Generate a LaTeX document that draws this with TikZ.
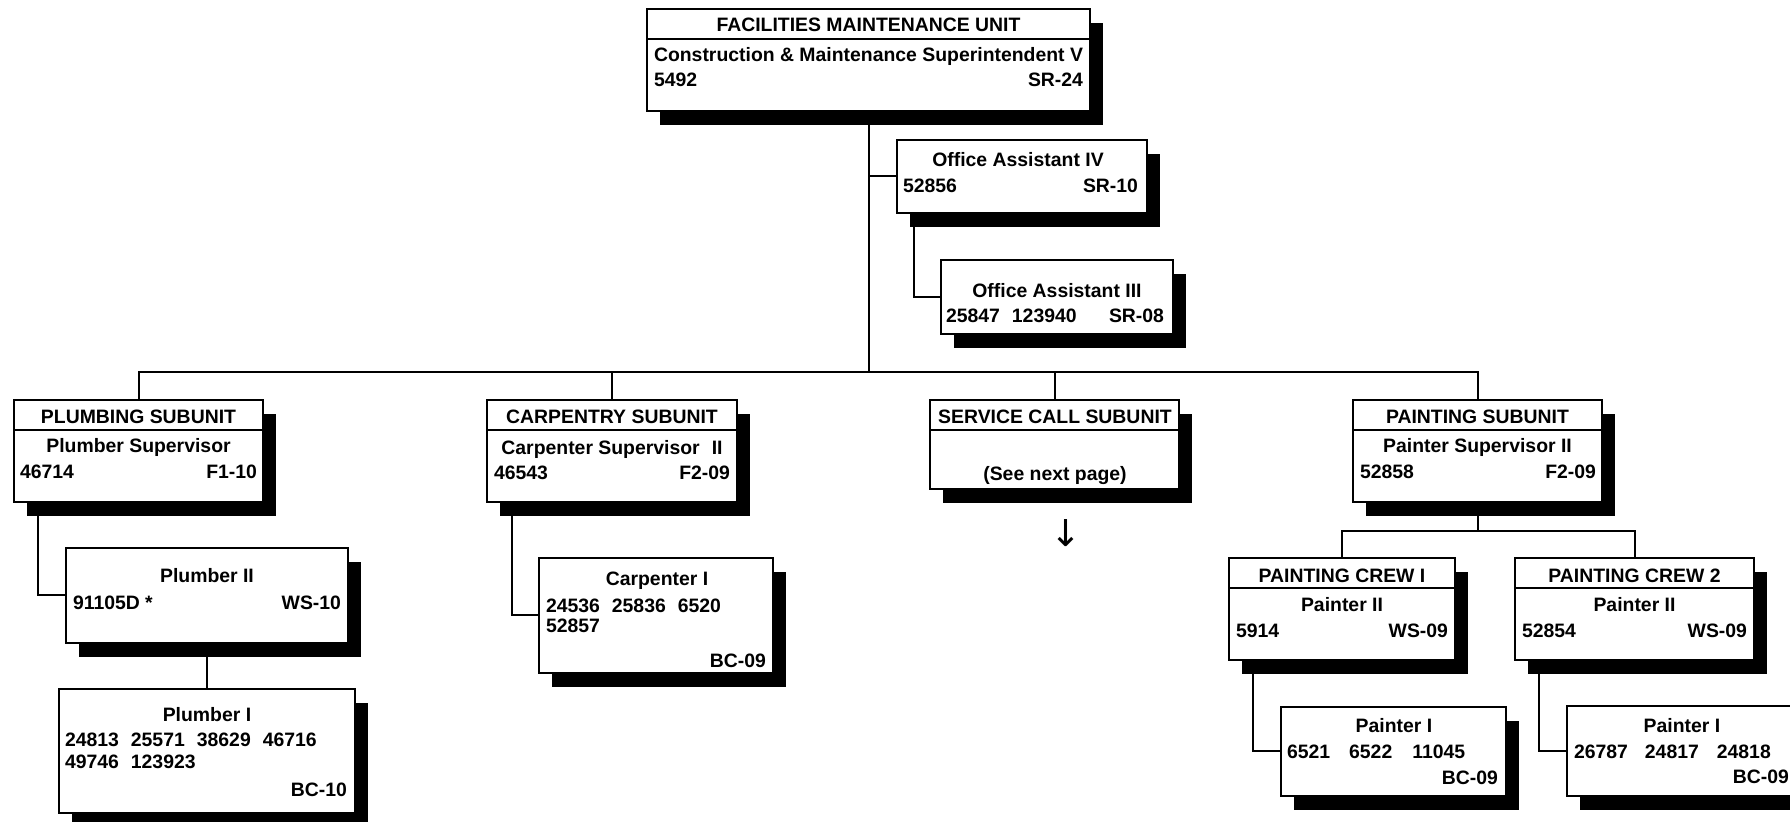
\documentclass[tikz,border=0pt]{standalone}
\usepackage{fontspec}
\setmainfont{Liberation Sans}
\newfontfamily\arrowfont{DejaVu Sans}
\usetikzlibrary{shadows}
\tikzset{
  box/.style={draw, fill=white, line width=1pt, inner sep=0pt, outer sep=0pt, anchor=north west,
    drop shadow={shadow xshift=6.5pt, shadow yshift=-7pt, fill=black, opacity=1}},
  txt/.style={inner sep=0pt, outer sep=0pt, font=\fontsize{9.7pt}{11pt}\selectfont\bfseries},
  ctxt/.style={txt, anchor=base},
  ltxt/.style={txt, anchor=base west},
  rtxt/.style={txt, anchor=base east},
  link/.style={line width=1pt},
  divider/.style={line width=1pt}
}
\begin{document}
\begin{tikzpicture}[x=0.5pt,y=-0.5pt]
\useasboundingbox (0,0) rectangle (1790,822);

% boxes
\node[box, minimum width=221.5pt, minimum height=51pt] (fmu) at (647,9) {};
\node[box, minimum width=125pt, minimum height=36.5pt] (oa4) at (897,140) {};
\node[box, minimum width=116pt, minimum height=37pt] (oa3) at (941,260) {};
\node[box, minimum width=124.5pt, minimum height=51pt] (plb) at (14,400) {};
\node[box, minimum width=141pt, minimum height=47.5pt] (plb2) at (66,548) {};
\node[box, minimum width=148pt, minimum height=62pt] (plb1) at (59,689) {};
\node[box, minimum width=125pt, minimum height=51pt] (car) at (487,400) {};
\node[box, minimum width=117pt, minimum height=57.5pt] (car1) at (539,558) {};
\node[box, minimum width=124.5pt, minimum height=44.5pt] (svc) at (930,400) {};
\node[box, minimum width=124.5pt, minimum height=51pt] (pnt) at (1353,400) {};
\node[box, minimum width=113pt, minimum height=51pt] (crew1) at (1229,558) {};
\node[box, minimum width=119.5pt, minimum height=51pt] (crew2) at (1515,558) {};
\node[box, minimum width=112.5pt, minimum height=44.5pt] (p1a) at (1281,707) {};
\node[box, minimum width=114.5pt, minimum height=45pt] (p1b) at (1567,706) {};

% header dividers
\foreach \b in {fmu,plb,car,svc,pnt,crew1,crew2}
  \draw[divider] ([yshift=-15pt]\b.north west) -- ([yshift=-15pt]\b.north east);

% connectors
\coordinate (hub) at (868.5,372);
\coordinate (pj) at (1477.5,531);
\draw[link] (fmu.south) -- (hub);
\draw[link] (oa4.west) -- (oa4.west -| fmu.south);
\draw[link] ([xshift=8.5pt]oa4.south west) |- (oa3.west);
\draw[link] (plb.north) |- (hub) -| (pnt.north);
\draw[link] (car.north) -- (car.north |- hub);
\draw[link] (svc.north) -- (svc.north |- hub);
\draw[link] ([xshift=12pt]plb.south west) |- (plb2.west);
\draw[link] (plb2.south) -- (plb1.north);
\draw[link] ([xshift=12.5pt]car.south west) |- (car1.west);
\draw[link] (pnt.south) -- (pj);
\draw[link] (crew1.north) |- (pj) -| (crew2.north);
\draw[link] ([xshift=12pt]crew1.south west) |- (p1a.west);
\draw[link] ([xshift=12pt]crew2.south west) |- (p1b.west);

% texts
\node[ctxt] (fmuT) at (868.5,32) {FACILITIES MAINTENANCE UNIT};
\node[ctxt] (fmuA) at (868.5,62) {Construction \& Maintenance Superintendent V};
\node[ltxt] (fmuB) at (654,87) {5492};
\node[rtxt] (fmuC) at (1083,87) {SR-24};

\node[ctxt] (oa4A) at (1018,167) {Office Assistant IV};
\node[ltxt] (oa4B) at (903,193) {52856};
\node[rtxt] (oa4C) at (1138,193) {SR-10};

\node[ctxt] (oa3A) at (1057,298) {Office Assistant III};
\node[ltxt] (oa3B) at (946,323) {25847\hspace{6pt}123940};
\node[rtxt] (oa3C) at (1164,323) {SR-08};

\node[ctxt] (plbT) at (138.5,424) {PLUMBING SUBUNIT};
\node[ctxt] (plbA) at (138.5,453) {Plumber Supervisor};
\node[ltxt] (plbB) at (20,479) {46714};
\node[rtxt] (plbC) at (257,479) {F1-10};

\node[ctxt] (plb2A) at (207,583) {Plumber II};
\node[ltxt] (plb2B) at (73,610) {91105D *};
\node[rtxt] (plb2C) at (341,610) {WS-10};

\node[ctxt] (plb1A) at (207,722) {Plumber I};
\node[ltxt] (plb1B) at (65,747) {24813\hspace{6pt}25571\hspace{6pt}38629\hspace{6pt}46716};
\node[ltxt] (plb1C) at (65,769) {49746\hspace{6pt}123923};
\node[rtxt] (plb1D) at (347,797) {BC-10};

\node[ctxt] (carT) at (612,424) {CARPENTRY SUBUNIT};
\node[ctxt] (carA) at (612,455) {Carpenter Supervisor\hspace{6pt}II};
\node[ltxt] (carB) at (494,480) {46543};
\node[rtxt] (carC) at (730,480) {F2-09};

\node[ctxt] (car1A) at (657,586) {Carpenter I};
\node[ltxt] (car1B) at (546,613) {24536\hspace{6pt}25836\hspace{6pt}6520};
\node[ltxt] (car1C) at (546,633) {52857};
\node[rtxt] (car1D) at (766,668) {BC-09};

\node[ctxt] (svcT) at (1055,424) {SERVICE CALL SUBUNIT};
\node[ctxt] (svcA) at (1055,481) {(See next page)};
\node[inner sep=0pt, font=\arrowfont\fontsize{18.5pt}{18.5pt}\selectfont] (svcArrow) at (1066,533) {↓};

\node[ctxt] (pntT) at (1477.5,424) {PAINTING SUBUNIT};
\node[ctxt] (pntA) at (1477.5,453) {Painter Supervisor II};
\node[ltxt] (pntB) at (1360,479) {52858};
\node[rtxt] (pntC) at (1596,479) {F2-09};

\node[ctxt] (crew1T) at (1342,583) {PAINTING CREW I};
\node[ctxt] (crew1A) at (1342,612) {Painter II};
\node[ltxt] (crew1B) at (1236,638) {5914};
\node[rtxt] (crew1C) at (1448,638) {WS-09};

\node[ctxt] (crew2T) at (1634.5,583) {PAINTING CREW 2};
\node[ctxt] (crew2A) at (1634.5,612) {Painter II};
\node[ltxt] (crew2B) at (1522,638) {52854};
\node[rtxt] (crew2C) at (1747,638) {WS-09};

\node[ctxt] (p1aA) at (1394,733) {Painter I};
\node[ltxt] (p1aB) at (1287,759) {6521\hspace{9.5pt}6522\hspace{10pt}11045};
\node[rtxt] (p1aC) at (1498,785) {BC-09};

\node[ctxt] (p1bA) at (1682,733) {Painter I};
\node[ltxt] (p1bB) at (1574,759) {26787\hspace{8.5pt}24817\hspace{9pt}24818};
\node[rtxt] (p1bC) at (1789,784) {BC-09};
\end{tikzpicture}
\end{document}
